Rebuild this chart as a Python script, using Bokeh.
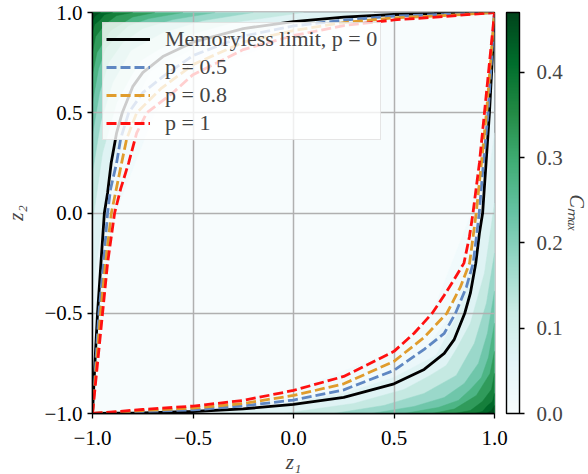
import numpy as np
from bokeh.plotting import figure
from bokeh.models import (ColumnDataSource, LinearColorMapper, ColorBar, FixedTicker,
                          Legend, LegendItem, LinearAxis, CustomJSTickFormatter, Range1d)
from bokeh.palettes import BuGn9
from bokeh.embed import file_html
from bokeh.resources import INLINE

# ---------------- data ----------------
x_ticks = [-1.0, -0.5, 0.0, 0.5, 1.0]
y_ticks = [-1.0, -0.5, 0.0, 0.5, 1.0]
cbar_ticks = [0.0, 0.1, 0.2, 0.3, 0.4]
c_low, c_high = 0.0, 0.47

# Memoryless limit, p = 0 (upper-left and lower-right branches)
p0_ul_z1 = [-1, -0.988, -0.975, -0.958, -0.941, -0.925, -0.907, -0.88, -0.852, -0.8, -0.75, -0.65, -0.5, -0.25, 0, 0.25, 0.5, 0.75, 1]
p0_ul_z2 = [-1, -0.75, -0.5, -0.25, 0, 0.1, 0.25, 0.4, 0.5, 0.63, 0.7, 0.78, 0.852, 0.92, 0.955, 0.977, 0.99, 0.997, 1]
p0_lr_z1 = [-1, -0.75, -0.5, -0.25, 0, 0.25, 0.5, 0.65, 0.75, 0.8, 0.852, 0.88, 0.907, 0.925, 0.941, 0.958, 0.975, 0.988, 1]
p0_lr_z2 = [-1, -0.997, -0.99, -0.977, -0.955, -0.92, -0.852, -0.78, -0.7, -0.63, -0.5, -0.4, -0.25, -0.1, 0, 0.25, 0.5, 0.75, 1]

# p = 0.5
p05_ul_z1 = [-1, -0.984, -0.968, -0.945, -0.925, -0.91, -0.88, -0.86, -0.82, -0.75, -0.65, -0.5, -0.25, 0, 0.25, 0.5, 0.75, 1]
p05_ul_z2 = [-1, -0.75, -0.5, -0.25, 0, 0.12, 0.25, 0.37, 0.5, 0.6, 0.68, 0.785, 0.882, 0.933, 0.962, 0.982, 0.99, 1]
p05_lr_z1 = [-1, -0.75, -0.5, -0.25, 0, 0.25, 0.5, 0.65, 0.75, 0.806, 0.86, 0.894, 0.91, 0.924, 0.945, 0.968, 0.984, 1]
p05_lr_z2 = [-1, -0.99, -0.982, -0.962, -0.933, -0.882, -0.785, -0.68, -0.6, -0.5, -0.37, -0.25, -0.12, 0, 0.25, 0.5, 0.75, 1]

# p = 0.8
p08_ul_z1 = [-1, -0.98, -0.96, -0.935, -0.906, -0.855, -0.83, -0.78, -0.66, -0.5, -0.25, 0, 0.25, 0.5, 0.75, 1]
p08_ul_z2 = [-1, -0.75, -0.5, -0.25, 0, 0.25, 0.37, 0.5, 0.62, 0.74, 0.852, 0.91, 0.95, 0.973, 0.985, 1]
p08_lr_z1 = [-1, -0.75, -0.5, -0.25, 0, 0.25, 0.5, 0.65, 0.763, 0.83, 0.876, 0.909, 0.935, 0.96, 0.98, 1]
p08_lr_z2 = [-1, -0.985, -0.973, -0.95, -0.91, -0.852, -0.74, -0.62, -0.5, -0.37, -0.25, 0, 0.25, 0.5, 0.75, 1]

# p = 1
p1_ul_z1 = [-1, -0.975, -0.95, -0.925, -0.89, -0.86, -0.82, -0.78, -0.73, -0.6, -0.5, -0.25, 0, 0.25, 0.5, 0.75, 1]
p1_ul_z2 = [-1, -0.75, -0.5, -0.25, 0, 0.12, 0.25, 0.4, 0.5, 0.6, 0.69, 0.815, 0.885, 0.935, 0.963, 0.98, 1]
p1_lr_z1 = [-1, -0.75, -0.5, -0.25, 0, 0.25, 0.5, 0.6, 0.69, 0.75, 0.8, 0.848, 0.875, 0.893, 0.925, 0.95, 0.975, 1]
p1_lr_z2 = [-1, -0.98, -0.963, -0.935, -0.885, -0.815, -0.69, -0.6, -0.5, -0.41, -0.33, -0.25, -0.12, 0, 0.25, 0.5, 0.75, 1]

# C_max field: iso-lines (levels) in the two green corners, and the value of the band beyond each
c_levels = [0.01, 0.03, 0.05, 0.10, 0.15, 0.20, 0.25, 0.30, 0.35, 0.40, 0.44]
c_band = [0.02, 0.04, 0.075, 0.125, 0.175, 0.225, 0.275, 0.325, 0.375, 0.42, 0.455]
lr_iso_z1 = [
    [-0.9, -0.5, 0.0, 0.5, 0.69, 0.885, 0.965, 1],
    [-0.7, -0.25, 0.25, 0.5, 0.665, 0.79, 0.885, 0.965, 1],
    [-0.4, -0.1, 0.25, 0.5, 0.71, 0.82, 0.9, 0.96, 1],
    [-0.05, 0.3, 0.55, 0.68, 0.76, 0.81, 0.88, 0.95, 1],
    [0.2, 0.45, 0.65, 0.81, 0.9, 0.96, 1],
    [0.39, 0.6, 0.75, 0.85, 0.92, 0.965, 1],
    [0.55, 0.72, 0.82, 0.88, 0.935, 0.97, 1],
    [0.69, 0.8, 0.91, 0.978, 1],
    [0.8, 0.88, 0.94, 0.985, 1],
    [0.9, 0.94, 0.963, 0.99, 1],
    [0.96, 0.985, 1],
]
lr_iso_z2 = [
    [-1, -0.965, -0.885, -0.69, -0.5, 0.0, 0.5, 0.9],
    [-1, -0.965, -0.885, -0.79, -0.665, -0.5, -0.25, 0.25, 0.7],
    [-1, -0.96, -0.9, -0.82, -0.71, -0.5, -0.25, 0.1, 0.4],
    [-1, -0.95, -0.88, -0.81, -0.76, -0.68, -0.55, -0.3, 0.05],
    [-1, -0.96, -0.9, -0.81, -0.65, -0.45, -0.2],
    [-1, -0.965, -0.92, -0.85, -0.75, -0.6, -0.39],
    [-1, -0.97, -0.935, -0.88, -0.82, -0.72, -0.55],
    [-1, -0.978, -0.91, -0.8, -0.69],
    [-1, -0.985, -0.94, -0.88, -0.8],
    [-1, -0.99, -0.963, -0.94, -0.9],
    [-1, -0.985, -0.96],
]
ul_iso_z1 = [
    [-1, -0.965, -0.885, -0.69, -0.5, 0.0, 0.5, 0.9],
    [-1, -0.965, -0.885, -0.79, -0.665, -0.5, -0.25, 0.25, 0.7],
    [-1, -0.96, -0.9, -0.82, -0.71, -0.5, -0.25, 0.1, 0.4],
    [-1, -0.95, -0.88, -0.81, -0.76, -0.68, -0.55, -0.3, 0.05],
    [-1, -0.96, -0.9, -0.81, -0.65, -0.45, -0.2],
    [-1, -0.965, -0.92, -0.85, -0.75, -0.6, -0.39],
    [-1, -0.97, -0.935, -0.88, -0.82, -0.72, -0.55],
    [-1, -0.978, -0.91, -0.8, -0.69],
    [-1, -0.985, -0.94, -0.88, -0.8],
    [-1, -0.99, -0.963, -0.94, -0.9],
    [-1, -0.985, -0.96],
]
ul_iso_z2 = [
    [-0.9, -0.5, 0.0, 0.5, 0.69, 0.885, 0.965, 1],
    [-0.7, -0.25, 0.25, 0.5, 0.665, 0.79, 0.885, 0.965, 1],
    [-0.4, -0.1, 0.25, 0.5, 0.71, 0.82, 0.9, 0.96, 1],
    [-0.05, 0.3, 0.55, 0.68, 0.76, 0.81, 0.88, 0.95, 1],
    [0.2, 0.45, 0.65, 0.81, 0.9, 0.96, 1],
    [0.39, 0.6, 0.75, 0.85, 0.92, 0.965, 1],
    [0.55, 0.72, 0.82, 0.88, 0.935, 0.97, 1],
    [0.69, 0.8, 0.91, 0.978, 1],
    [0.8, 0.88, 0.94, 0.985, 1],
    [0.9, 0.94, 0.963, 0.99, 1],
    [0.96, 0.985, 1],
]

legend_labels = ["Memoryless limit, p = 0", "p = 0.5", "p = 0.8", "p = 1"]

# ---------------- styling ----------------
FONT = "Liberation Serif"
FS = "21px"

def make_palette(cols, n=256):
    rgb = np.array([[int(c[i:i + 2], 16) for i in (1, 3, 5)] for c in cols], dtype=float)
    t = np.linspace(0, 1, len(cols))
    tt = np.linspace(0, 1, n)
    out = []
    for k in tt:
        r = [np.interp(k, t, rgb[:, j]) for j in range(3)]
        out.append("#%02x%02x%02x" % tuple(int(round(v)) for v in r))
    return out

palette = make_palette(list(BuGn9[::-1]))
mapper = LinearColorMapper(palette=palette, low=c_low, high=c_high)

p = figure(frame_width=402, frame_height=401, x_range=Range1d(-1, 1), y_range=Range1d(-1, 1),
           output_backend="svg", toolbar_location=None,
           min_border_left=92, min_border_top=12, min_border_bottom=4, min_border_right=0)
p.background_fill_color = palette[0]
p.outline_line_color = "black"
p.outline_line_width = 1.4

# heatmap bands
xs, ys, cs = [], [], []
for k in range(len(c_levels)):
    xs.append(list(lr_iso_z1[k]) + [p.x_range.end])
    ys.append(list(lr_iso_z2[k]) + [p.y_range.start])
    cs.append(c_band[k])
    xs.append(list(ul_iso_z1[k]) + [p.x_range.start])
    ys.append(list(ul_iso_z2[k]) + [p.y_range.end])
    cs.append(c_band[k])
band_src = ColumnDataSource(dict(xs=xs, ys=ys, c=cs))
br = p.patches("xs", "ys", source=band_src, fill_color={"field": "c", "transform": mapper},
               line_color={"field": "c", "transform": mapper}, line_width=0.5)
br.level = "image"

LW = 2.8
DASH = "10 4"
curves = [
    (p0_ul_z1, p0_ul_z2, p0_lr_z1, p0_lr_z2, "black", "solid"),
    (p05_ul_z1, p05_ul_z2, p05_lr_z1, p05_lr_z2, "#5f87c2", DASH),
    (p08_ul_z1, p08_ul_z2, p08_lr_z1, p08_lr_z2, "#e09c2c", DASH),
    (p1_ul_z1, p1_ul_z2, p1_lr_z1, p1_lr_z2, "#ff1010", DASH),
]
items = []
for (ax, ay, bx, by, col, dash), lab in zip(curves, legend_labels):
    r1 = p.line(ax, ay, line_color=col, line_width=LW, line_dash=dash)
    p.line(bx, by, line_color=col, line_width=LW, line_dash=dash)
    items.append(LegendItem(label=lab, renderers=[r1]))

legend = Legend(items=items, location="top_left", label_text_font=FONT, label_text_font_size="22px",
                glyph_width=44, glyph_height=24, label_standoff=15, spacing=2, padding=3, margin=10,
                background_fill_color="white", background_fill_alpha=0.8,
                border_line_color="#cccccc", border_line_width=1.2)
p.add_layout(legend)

# axes
fmt = CustomJSTickFormatter(code="return tick.toFixed(1).replace('-', '\u2212');")
p.xaxis.ticker = FixedTicker(ticks=x_ticks)
p.yaxis.ticker = FixedTicker(ticks=y_ticks)
for ax in (p.xaxis, p.yaxis):
    ax.formatter = fmt
    ax.major_label_text_font = FONT
    ax.major_label_text_font_size = FS
    ax.major_label_text_color = "black"
    ax.axis_line_color = "black"
    ax.axis_line_width = 1.4
    ax.major_tick_line_color = "black"
    ax.major_tick_line_width = 1.3
    ax.major_tick_out = 5
    ax.major_tick_in = 0
    ax.minor_tick_line_color = None
    ax.axis_label_text_font = FONT
    ax.axis_label_text_font_size = FS
    ax.axis_label_text_font_style = "italic"
p.xaxis.axis_label = "z\u2081"
p.yaxis.axis_label = "z\u2082"
p.xaxis.major_label_standoff = 12
p.yaxis.major_label_standoff = 5
p.xaxis.axis_label_standoff = 2
p.yaxis.axis_label_standoff = 13

p.grid.grid_line_color = "#b0b0b0"
p.grid.grid_line_width = 1.5
p.xgrid.ticker = FixedTicker(ticks=x_ticks)
p.ygrid.ticker = FixedTicker(ticks=y_ticks)

# spacer between frame and colour bar (an invisible axis with one hidden tick)
spacer = LinearAxis(ticker=FixedTicker(ticks=[0.0]), formatter=CustomJSTickFormatter(code="return '';"),
                    axis_line_color=None, major_tick_line_color=None,
                    minor_tick_line_color=None, major_tick_out=12, major_tick_in=0,
                    major_label_standoff=0)
p.add_layout(spacer, "right")

cb = ColorBar(color_mapper=mapper, ticker=FixedTicker(ticks=cbar_ticks),
              formatter=CustomJSTickFormatter(code="return tick.toFixed(1);"),
              width=13, major_tick_out=5, major_tick_in=0, major_tick_line_color="black",
              major_tick_line_width=1.3, minor_tick_line_color=None,
              bar_line_color="black", bar_line_width=1.4,
              major_label_text_font=FONT, major_label_text_font_size=FS,
              label_standoff=12, margin=0, padding=0, background_fill_alpha=0)
p.add_layout(cb, "right")

cax = LinearAxis(axis_label="C\u2098\u2090\u2093", ticker=FixedTicker(ticks=[]),
                 axis_line_color=None, major_tick_line_color=None, minor_tick_line_color=None,
                 major_tick_out=0, major_tick_in=0, major_label_standoff=0,
                 major_label_text_font_size="0px", axis_label_text_font=FONT,
                 axis_label_text_font_size="20px", axis_label_text_font_style="italic",
                 axis_label_standoff=0)
p.add_layout(cax, "right")

open("out.html", "w").write(file_html(p, INLINE))
